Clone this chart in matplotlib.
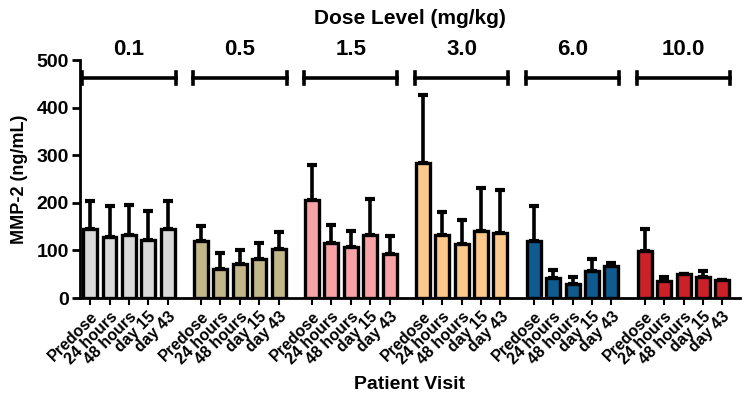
import matplotlib.pyplot as plt
import numpy as np

plt.rcParams["font.family"] = ["Liberation Sans", "DejaVu Sans"]
plt.rcParams["font.weight"] = "bold"

doses = ["0.1", "0.5", "1.5", "3.0", "6.0", "10.0"]
visits = ["Predose", "24 hours", "48 hours", "day 15", "day 43"]

means = [
    [145, 129, 133, 122, 145],
    [119, 62, 72, 82, 104],
    [205, 115, 108, 133, 92],
    [284, 133, 114, 140, 136],
    [119, 42, 30, 57, 68],
    [98, 36, 50, 45, 37],
]
upper = [
    [204, 194, 196, 182, 204],
    [152, 95, 101, 116, 139],
    [280, 153, 141, 208, 130],
    [427, 180, 164, 231, 226],
    [194, 58, 45, 82, 73],
    [145, 45, 51, 56, 38],
]
colors = ["#d9d9d9", "#c2b788", "#f7a3a6", "#fdc88b", "#0f5a8f", "#cc2128"]

fig = plt.figure(figsize=(7.48, 4.03), dpi=100)
ax = fig.add_axes([0.107, 0.2605, 0.882, 0.5905])

group_step = 5.72
bw = 0.72
all_pos, all_lab = [], []
for g, dose in enumerate(doses):
    pos = g * group_step + np.arange(len(visits))
    m = np.array(means[g])
    err = np.array(upper[g]) - m
    ax.bar(pos, m, bw, color=colors[g], edgecolor="black", linewidth=2.4, zorder=3)
    ax.errorbar(pos, m, yerr=[np.zeros_like(err), err], fmt="none", ecolor="black",
                elinewidth=2.6, capsize=3.5, capthick=3, zorder=2)
    # dose bracket
    x0, x1 = pos[0] - bw / 2 - 0.05, pos[-1] + bw / 2 + 0.05
    ax.plot([x0, x1], [462, 462], color="black", lw=2.6, clip_on=False)
    ax.plot([x0, x0], [450, 474], color="black", lw=2.6, clip_on=False)
    ax.plot([x1, x1], [450, 474], color="black", lw=2.6, clip_on=False)
    ax.text((pos[0] + pos[-1]) / 2, 501, dose, ha="center", va="bottom",
            fontsize=16, fontweight="bold", clip_on=False)
    all_pos.extend(pos)
    all_lab.extend(visits)

ax.set_xlim(-0.52, 33.5)
ax.set_ylim(0, 500)
ax.set_yticks([0, 100, 200, 300, 400, 500])
ax.set_xticks(all_pos)
ax.set_xticklabels(all_lab, rotation=45, ha="right", rotation_mode="anchor",
                   fontsize=11.5, fontweight="bold")
ax.tick_params(axis="y", labelsize=14, width=2, length=6, pad=2)
ax.tick_params(axis="x", width=1.5, length=5, pad=3)
for lab in ax.get_yticklabels():
    lab.set_fontweight("bold")
for s in ["top", "right"]:
    ax.spines[s].set_visible(False)
for s in ["left", "bottom"]:
    ax.spines[s].set_linewidth(2)

ax.set_ylabel("MMP-2 (ng/mL)", fontsize=13, fontweight="bold", labelpad=6)
fig.text(0.548, 0.047, "Patient Visit", ha="center", va="center", fontsize=14, fontweight="bold")
fig.text(0.548, 0.953, "Dose Level (mg/kg)", ha="center", va="center", fontsize=15, fontweight="bold")

fig.savefig("out.png", dpi=100)
